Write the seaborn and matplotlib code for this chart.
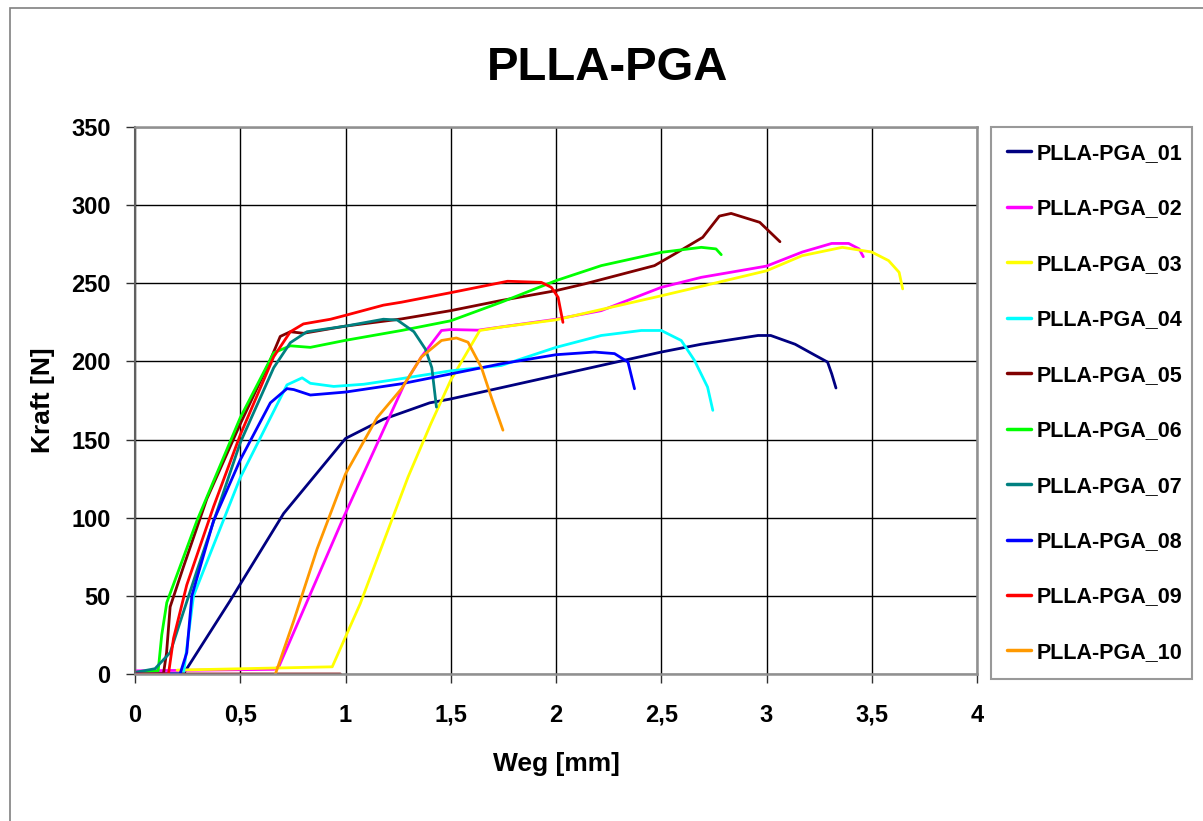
import matplotlib
matplotlib.use("Agg")
import matplotlib.pyplot as plt
import seaborn as sns
import pandas as pd
from matplotlib.patches import Rectangle

# ---------------- data ----------------
series_names = ["PLLA-PGA_01", "PLLA-PGA_02", "PLLA-PGA_03", "PLLA-PGA_04", "PLLA-PGA_05",
                "PLLA-PGA_06", "PLLA-PGA_07", "PLLA-PGA_08", "PLLA-PGA_09", "PLLA-PGA_10"]
series_colors = ["#000080", "#FF00FF", "#FFFF00", "#00FFFF", "#800000",
                 "#00FF00", "#008080", "#0000FF", "#FF0000", "#FF9900"]

x01 = [0, 0.23, 0.45, 0.706, 1.0, 1.18, 1.40, 1.5, 2.0, 2.5, 2.69, 2.96, 3.02, 3.136, 3.23, 3.29, 3.31, 3.33]
y01 = [0, 0, 46.5, 102.7, 150.7, 163, 173.5, 176, 191, 206, 211, 216.6, 216.6, 211, 204, 199.6, 192, 183]

x02 = [0.0, 0.66, 0.683, 0.99, 1.278, 1.36, 1.456, 1.5, 1.63, 2.0, 2.215, 2.5, 2.69, 3.0, 3.17, 3.31, 3.39, 3.44, 3.46]
y02 = [2, 3, 4.6, 100, 185, 202.8, 219.8, 220.4, 220, 227, 232.5, 247.4, 253.8, 261, 270, 275.5, 275.5, 272, 267]

x03 = [0.2, 0.937, 1.07, 1.297, 1.405, 1.5, 1.638, 1.74, 2.0, 2.5, 2.689, 3.0, 3.17, 3.36, 3.5, 3.58, 3.63, 3.647]
y03 = [2.5, 4.6, 45, 126, 160, 188, 219.8, 222, 226.6, 242, 248, 258, 267.7, 273, 270, 264.5, 257, 246.4]

x04 = [0, 0.23, 0.278, 0.5, 0.722, 0.794, 0.833, 0.944, 1.087, 1.266, 1.5, 1.74, 2.0, 2.215, 2.405, 2.5, 2.595, 2.658, 2.72, 2.745]
y04 = [0, 0, 50, 125.6, 185, 189.5, 186, 184, 185.4, 189, 194, 197.4, 209, 216.6, 219.8, 219.8, 213.4, 200.6, 183.6, 168.7]

x05 = [0.976, 0, 0.135, 0.15, 0.167, 0.23, 0.341, 0.5, 0.643, 0.69, 0.738, 0.8, 1.0, 1.266, 1.5, 1.74, 2.0, 2.136, 2.468, 2.563, 2.697, 2.776, 2.832, 2.968, 3.064]
y05 = [0, 0, 0, 13.7, 43, 68.5, 112, 160, 201, 216, 219, 218, 222.6, 227.2, 232.5, 239, 245.3, 249.6, 261.3, 268.7, 279.4, 293, 294.7, 289, 276.6]

x06 = [0, 0.11, 0.127, 0.151, 0.294, 0.5, 0.659, 0.738, 0.833, 1.0, 1.266, 1.5, 1.74, 2.0, 2.215, 2.5, 2.69, 2.76, 2.785]
y06 = [1, 2, 25, 45.7, 98, 164, 205.5, 210, 209, 213.5, 219.8, 226, 237.9, 251.7, 261.3, 269.8, 273, 272, 268.3]

x07 = [0, 0.095, 0.167, 0.294, 0.5, 0.659, 0.738, 0.817, 1.0, 1.18, 1.246, 1.325, 1.38, 1.41, 1.432]
y07 = [1, 3.4, 13.7, 66, 148, 196, 212, 219, 222.6, 227, 226.5, 219, 207.8, 196, 170.8]

x08 = [0, 0.214, 0.246, 0.27, 0.373, 0.5, 0.643, 0.722, 0.754, 0.833, 1.0, 1.266, 1.5, 1.74, 2.0, 2.183, 2.278, 2.342, 2.373]
y08 = [0, 0, 13.7, 50, 98, 137, 173.5, 182.6, 182, 178.5, 180.4, 185.7, 192, 198.5, 204.3, 206, 205, 199.6, 182.5]

x09 = [0, 0.159, 0.183, 0.246, 0.373, 0.5, 0.659, 0.738, 0.8, 0.929, 1.0, 1.18, 1.266, 1.5, 1.77, 1.93, 1.978, 2.01, 2.033]
y09 = [0, 0, 22.8, 57, 107, 153, 203, 219, 224, 227, 229.5, 236, 237.9, 244, 251.3, 250.6, 247.4, 241, 225]

x10 = [0.667, 0.754, 0.865, 1.0, 1.15, 1.266, 1.36, 1.456, 1.527, 1.582, 1.646, 1.693, 1.748]
y10 = [0, 34, 80, 128, 164, 182.5, 202.8, 213.4, 215, 212.3, 196, 177, 156]

x_ticks = [0, 0.5, 1, 1.5, 2, 2.5, 3, 3.5, 4]
x_tick_labels = ["0", "0,5", "1", "1,5", "2", "2,5", "3", "3,5", "4"]
y_ticks = [0, 50, 100, 150, 200, 250, 300, 350]
y_tick_labels = ["0", "50", "100", "150", "200", "250", "300", "350"]

title_text = "PLLA-PGA"
x_label = "Weg [mm]"
y_label = "Kraft [N]"

# ---------------- build long-form table ----------------
all_x = [x01, x02, x03, x04, x05, x06, x07, x08, x09, x10]
all_y = [y01, y02, y03, y04, y05, y06, y07, y08, y09, y10]
rows = []
for name, xs, ys in zip(series_names, all_x, all_y):
    for i, (xv, yv) in enumerate(zip(xs, ys)):
        rows.append({"series": name, "order": i, "Weg": xv, "Kraft": yv})
df = pd.DataFrame(rows)

# ---------------- style ----------------
sns.set_style("white")
plt.rcParams["font.family"] = ["Liberation Sans", "DejaVu Sans"]
plt.rcParams["font.weight"] = "bold"
plt.rcParams["text.color"] = "black"
plt.rcParams["axes.labelcolor"] = "black"
plt.rcParams["xtick.color"] = "black"
plt.rcParams["ytick.color"] = "black"
plt.rcParams["xtick.bottom"] = True
plt.rcParams["ytick.left"] = True

W, H = 1203, 821
fig = plt.figure(figsize=(W / 100, H / 100), dpi=100)
fig.patch.set_facecolor("white")

# outer chart border (Excel style)
fig.patches.append(Rectangle((10 / W, -0.05), 1.2, 1 - 8 / H + 0.05, transform=fig.transFigure,
                             fill=False, edgecolor="#808080", linewidth=1.2))

left, right, bottom, top = 135 / W, 977 / W, 1 - 674 / H, 1 - 127 / H
ax = fig.add_axes([left, bottom, right - left, top - bottom])

sns.lineplot(data=df, x="Weg", y="Kraft", hue="series", hue_order=series_names,
             palette=dict(zip(series_names, series_colors)), sort=False,
             estimator=None, units="series", linewidth=2.0, ax=ax, legend=True)

ax.set_xlim(0, 4)
ax.set_ylim(0, 350)
ax.set_xticks(x_ticks)
ax.set_xticklabels(x_tick_labels, fontsize=17, fontweight="bold")
ax.set_yticks(y_ticks)
ax.set_yticklabels(y_tick_labels, fontsize=17, fontweight="bold")
ax.tick_params(axis="both", which="major", bottom=True, left=True, direction="out",
               length=6.5, width=1, color="#303030")
ax.tick_params(axis="y", pad=11)
ax.tick_params(axis="x", pad=15)

ax.grid(True, color="black", linewidth=1.0)
ax.set_axisbelow(True)
ax.spines["left"].set_color("#606060")
ax.spines["left"].set_linewidth(1.5)
for side in ["bottom", "top", "right"]:
    ax.spines[side].set_color("#909090")
    ax.spines[side].set_linewidth(1.8)

ax.set_xlabel(x_label, fontsize=19, fontweight="bold", labelpad=18)
ax.set_ylabel(y_label, fontsize=19, fontweight="bold", labelpad=12)

fig.text(0.505, 1 - 68 / H, title_text, ha="center", va="center", fontsize=34, fontweight="bold")

# legend
handles, labels = ax.get_legend_handles_labels()
if ax.legend_ is not None:
    ax.legend_.remove()
leg = fig.legend(handles, labels, loc="upper left",
                 bbox_to_anchor=(991 / W, 1 - 127 / H, (1192 - 991) / W, 0.0),
                 mode="expand", prop={"weight": "bold", "size": 15.5},
                 frameon=True, fancybox=False, borderpad=0.74, labelspacing=1.6,
                 handlelength=1.1, handletextpad=0.28, borderaxespad=0.0)
leg.get_frame().set_edgecolor("#808080")
leg.get_frame().set_linewidth(1.5)
for line in leg.get_lines():
    line.set_linewidth(2.5)

fig.savefig("out.png", dpi=100, facecolor="white")
